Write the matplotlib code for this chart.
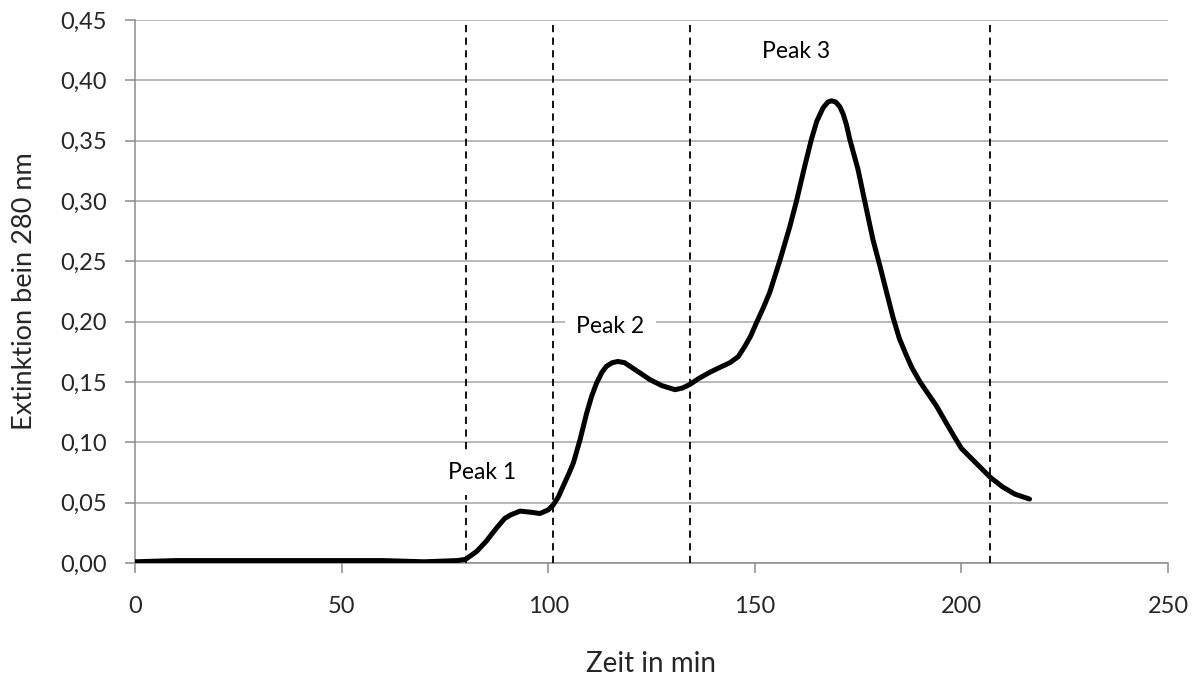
import matplotlib
matplotlib.use("Agg")
import matplotlib.pyplot as plt

# chromatogram
zeit = [0, 10, 20, 30, 40, 50, 60, 70, 78, 80, 82.7, 85, 87.5, 89.5, 91, 93.2, 96, 98, 100,
        101.2, 102.5, 103.6, 105, 106.1, 107.7, 109.3, 110.5, 111.7, 113, 114.1, 115.5, 116.9,
        118.5, 119.8, 122, 124.6, 127.5, 130.7, 132.5, 134.3, 136.5, 139.1, 141.5, 144, 146,
        147.5, 149, 150.4, 152, 153.6, 156.1, 158.5, 160.1, 162.1, 163.7, 165, 166.5, 167.7,
        168.6, 169.6, 170.6, 171.4, 172.2, 173, 175, 176.6, 178.6, 180.3, 182, 183.5, 185,
        186.7, 188, 190, 192, 194, 196, 198.4, 200, 203.5, 207, 210, 213, 216.5]
extinktion = [0.001, 0.002, 0.002, 0.002, 0.002, 0.002, 0.002, 0.001, 0.002, 0.003, 0.0096,
              0.018, 0.029, 0.037, 0.040, 0.043, 0.042, 0.041, 0.044,
              0.048, 0.055, 0.0635, 0.074, 0.083, 0.102, 0.124, 0.138, 0.149, 0.158, 0.163,
              0.166, 0.167, 0.166, 0.163, 0.158, 0.152, 0.147, 0.1436, 0.145, 0.148, 0.153,
              0.158, 0.162, 0.166, 0.171, 0.179, 0.188, 0.199, 0.211, 0.224, 0.251, 0.279,
              0.300, 0.329, 0.351, 0.366, 0.377, 0.382, 0.383, 0.382, 0.378, 0.372, 0.363,
              0.351, 0.326, 0.300, 0.268, 0.246, 0.223, 0.203, 0.186, 0.172, 0.162, 0.150,
              0.140, 0.130, 0.118, 0.104, 0.095, 0.083, 0.071, 0.063, 0.057, 0.053]

grenzen = [80, 101.2, 134.4, 207]
peak_namen = ["Peak 1", "Peak 2", "Peak 3"]
peak_x = [83.9, 115, 160.1]
peak_y = [0.0748, 0.196, 0.424]

x_ticks = [0, 50, 100, 150, 200, 250]
y_ticks = [0, 0.05, 0.10, 0.15, 0.20, 0.25, 0.30, 0.35, 0.40, 0.45]
y_labels = ["0,00", "0,05", "0,10", "0,15", "0,20", "0,25", "0,30", "0,35", "0,40", "0,45"]

plt.rcParams['font.family'] = ['Lato', 'DejaVu Sans']
grau = '#8c8c8c'

fig = plt.figure(figsize=(11.99, 6.77), dpi=100)
ax = fig.add_axes([0.1126, 0.1684, 0.8615, 0.8021])

ax.plot(zeit, extinktion, color='black', lw=3.6, solid_capstyle='round',
        solid_joinstyle='round', zorder=4)
for g in grenzen:
    ax.plot([g, g], [0, 0.45], color='black', lw=1.3, linestyle=(0, (4, 3)), zorder=3)
for name, px, py in zip(peak_namen, peak_x, peak_y):
    ax.text(px, py, name, ha='center', va='center', fontsize=16.5, zorder=3.5,
            bbox=dict(boxstyle='square,pad=0.5', fc='white', ec='none'))

ax.set_xlim(0, 250)
ax.set_ylim(0, 0.45)
ax.set_xticks(x_ticks)
ax.set_yticks(y_ticks)
ax.set_yticklabels(y_labels)
ax.grid(axis='y', color='#a6a6a6', lw=1.1, zorder=0)
ax.set_axisbelow(True)
for s in ['top', 'right']:
    ax.spines[s].set_visible(False)
for s in ['left', 'bottom']:
    ax.spines[s].set_color(grau)
    ax.spines[s].set_linewidth(1.1)
ax.tick_params(axis='both', colors=grau, labelcolor='#262626', labelsize=17,
               length=7, width=1.1)
ax.tick_params(axis='y', pad=13)
ax.tick_params(axis='x', pad=17)
ax.set_xlabel("Zeit in min", fontsize=20, labelpad=24, color='#262626')
ax.set_ylabel("Extinktion bein 280 nm", fontsize=19.5, labelpad=17, color='#262626')

fig.savefig("out.png", dpi=100)
